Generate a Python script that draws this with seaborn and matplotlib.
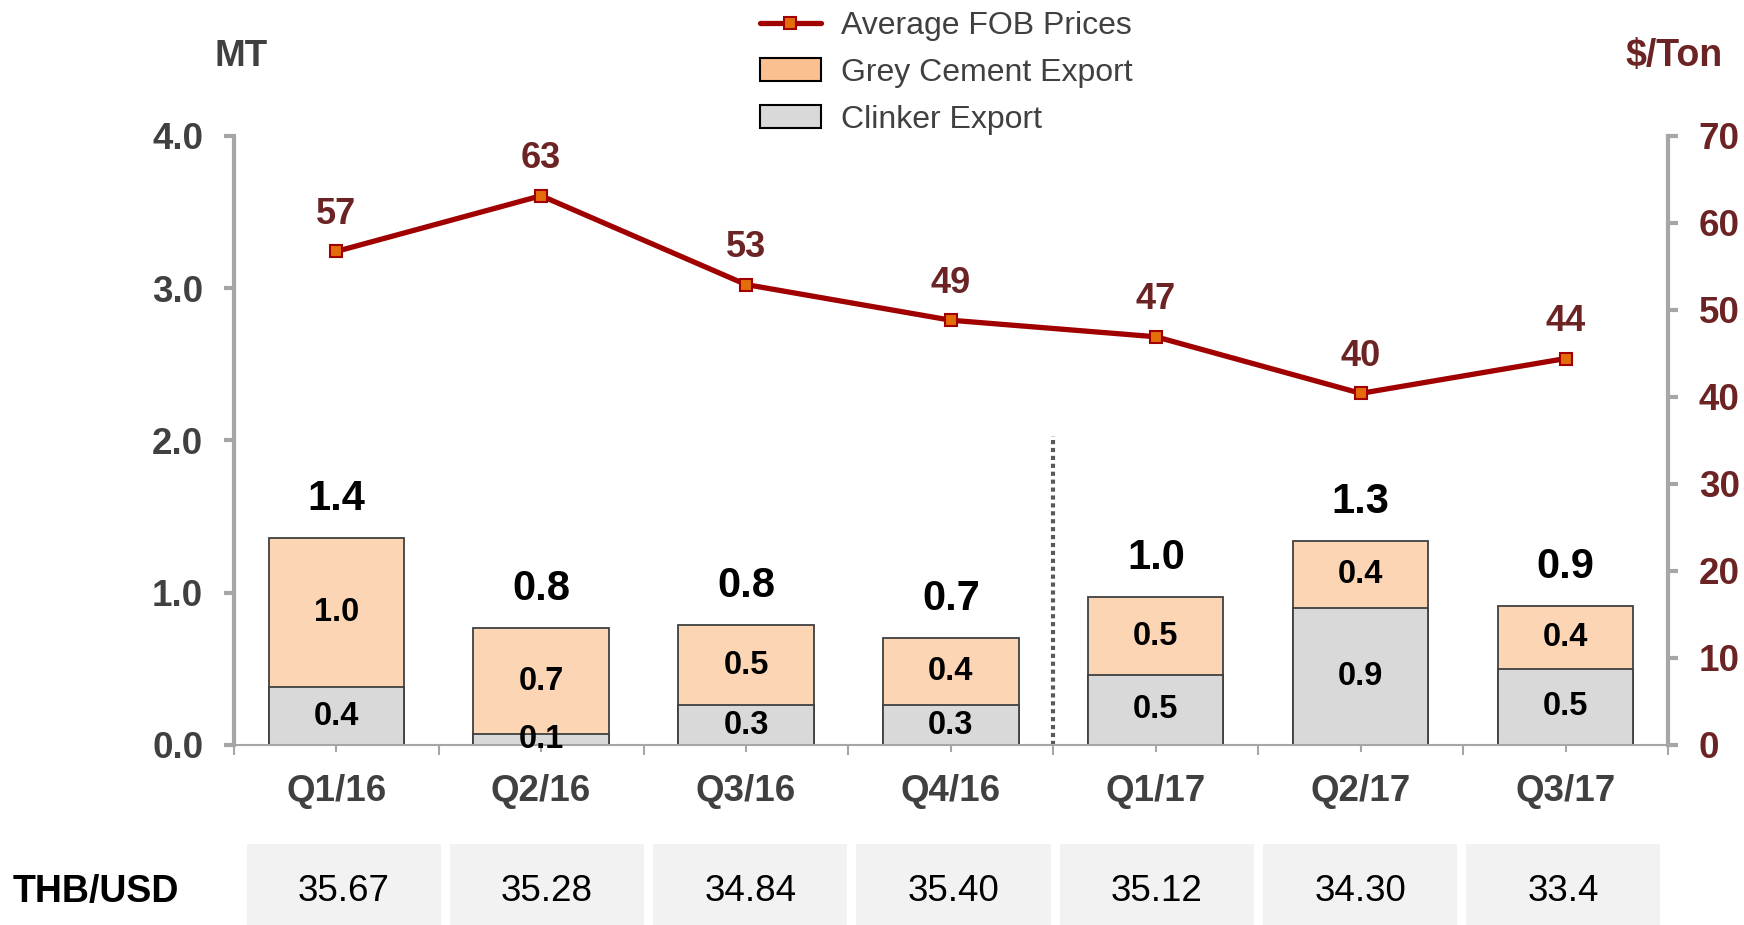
import numpy as np
import matplotlib
matplotlib.use("Agg")
import matplotlib.pyplot as plt
from matplotlib.lines import Line2D
from matplotlib.patches import Patch
import seaborn as sns

# ---- data ----
quarters = ["Q1/16", "Q2/16", "Q3/16", "Q4/16", "Q1/17", "Q2/17", "Q3/17"]
clinker = [0.38, 0.07, 0.26, 0.26, 0.46, 0.90, 0.50]
grey_cement = [0.98, 0.70, 0.53, 0.44, 0.51, 0.44, 0.41]
clinker_labels = ["0.4", "0.1", "0.3", "0.3", "0.5", "0.9", "0.5"]
grey_labels = ["1.0", "0.7", "0.5", "0.4", "0.5", "0.4", "0.4"]
total_labels = ["1.4", "0.8", "0.8", "0.7", "1.0", "1.3", "0.9"]
fob_price = [56.7, 63.1, 52.9, 48.8, 46.9, 40.4, 44.4]
fob_labels = ["57", "63", "53", "49", "47", "40", "44"]
thb_usd = ["35.67", "35.28", "34.84", "35.40", "35.12", "34.30", "33.4"]

# ---- colours ----
PEACH = "#FCD5B5"
PEACH_LEG = "#FAC090"
GREY_BAR = "#D9D9D9"
EDGE = "#404040"
LINE_RED = "#A00000"
MARKER_OR = "#E46C0A"
MAROON = "#6B2323"
AXIS_GREY = "#A6A6A6"
TEXT_DARK = "#404040"

sns.set_style("white")
plt.rcParams["font.family"] = ["Liberation Sans", "DejaVu Sans"]

fig = plt.figure(figsize=(17.44, 9.25), dpi=100)
ax = fig.add_axes([0.134, 0.1946, 0.8225, 0.6587])

total = [c + g for c, g in zip(clinker, grey_cement)]

# stacked bars: full height in peach, clinker drawn over it
sns.barplot(x=quarters, y=total, color=PEACH, saturation=1, width=0.66,
            edgecolor=EDGE, linewidth=1.3, ax=ax)
sns.barplot(x=quarters, y=clinker, color=GREY_BAR, saturation=1, width=0.66,
            edgecolor=EDGE, linewidth=1.3, ax=ax)

ax.set_xlim(-0.5, len(quarters) - 0.5)
ax.set_ylim(0, 4.0)
ax.set_yticks(np.arange(0, 4.01, 1.0))
ax.set_yticklabels([f"{v:.1f}" for v in np.arange(0, 4.01, 1.0)])
ax.set_xlabel("")
ax.set_ylabel("")
ax.set_xticks(np.arange(-0.5, len(quarters), 1.0), minor=True)

for i in range(len(quarters)):
    ax.text(i, clinker[i] / 2, clinker_labels[i], ha="center", va="center",
            fontsize=23.5, fontweight="bold", color="black")
    ax.text(i, clinker[i] + grey_cement[i] / 2, grey_labels[i], ha="center",
            va="center", fontsize=23.5, fontweight="bold", color="black")
    ax.annotate(total_labels[i], (i, total[i]), xytext=(0, 28),
                textcoords="offset points", ha="center", va="center",
                fontsize=30, fontweight="bold", color="black")

# dotted divider between 2016 and 2017
ax.plot([3.5, 3.5], [0, 2.03], color="#595959", lw=3.0,
        linestyle=(0, (1, 0.9)), zorder=1)

for s in ["top", "right"]:
    ax.spines[s].set_visible(False)
ax.spines["left"].set_color(AXIS_GREY)
ax.spines["left"].set_linewidth(3)
ax.spines["bottom"].set_color(AXIS_GREY)
ax.spines["bottom"].set_linewidth(1.5)
ax.tick_params(axis="y", direction="out", length=7, width=3, color=AXIS_GREY,
               pad=15, labelsize=26.5, labelcolor=TEXT_DARK, left=True)
ax.tick_params(axis="x", which="major", direction="out", length=5, width=1.5,
               color=AXIS_GREY, pad=16, labelsize=26.5, labelcolor=TEXT_DARK,
               bottom=True)
ax.tick_params(axis="x", which="minor", direction="out", length=7, width=1.5,
               color=AXIS_GREY, bottom=True)
plt.setp(ax.get_yticklabels(), fontweight="bold")
plt.setp(ax.get_xticklabels(), fontweight="bold")

# price line on the right axis
ax2 = ax.twinx()
sns.lineplot(x=np.arange(len(quarters)), y=fob_price, sort=False, ax=ax2,
             color=LINE_RED, lw=3.8, marker="s", markersize=8.5,
             markerfacecolor=MARKER_OR, markeredgecolor=LINE_RED,
             markeredgewidth=1.5)
ax2.set_ylim(0, 70)
ax2.set_yticks(np.arange(0, 71, 10))
for i, (v, lbl) in enumerate(zip(fob_price, fob_labels)):
    ax2.annotate(lbl, (i, v), xytext=(0, 26.5), textcoords="offset points",
                 ha="center", va="center", fontsize=26, fontweight="bold",
                 color=MAROON)
for s in ["top", "left", "bottom"]:
    ax2.spines[s].set_visible(False)
ax2.spines["right"].set_color(AXIS_GREY)
ax2.spines["right"].set_linewidth(3)
ax2.tick_params(axis="y", direction="out", length=7, width=3, color=AXIS_GREY,
                pad=15, labelsize=26.5, labelcolor=MAROON, right=True)
plt.setp(ax2.get_yticklabels(), fontweight="bold")
ax2.set_xlim(-0.5, len(quarters) - 0.5)

fig.text(241 / 1744, 1 - 56 / 925, "MT", ha="center", va="center",
         fontsize=26.5, fontweight="bold", color=TEXT_DARK)
fig.text(1674 / 1744, 1 - 56 / 925, "$/Ton", ha="center", va="center",
         fontsize=27, fontweight="bold", color=MAROON)

# exchange-rate row under the chart
tab = fig.add_axes([242 / 1744, 0.0, (1665 - 242) / 1744, 81 / 925])
sns.barplot(x=quarters, y=[1] * len(quarters), color="#F2F2F2", saturation=1,
            width=0.955, linewidth=0, ax=tab)
tab.set_xlim(-0.5, len(quarters) - 0.5)
tab.set_ylim(0, 1)
for i, v in enumerate(thb_usd):
    tab.text(i, 0.41, v, ha="center", va="center", fontsize=26.5,
             color="black")
tab.axis("off")
fig.text(96 / 1744, 33 / 925, "THB/USD", ha="center", va="center",
         fontsize=27, fontweight="bold", color="black")

handles = [
    Line2D([0], [0], color=LINE_RED, lw=3.8, marker="s", markersize=8.5,
           markerfacecolor=MARKER_OR, markeredgecolor=LINE_RED,
           markeredgewidth=1.5),
    Patch(facecolor=PEACH_LEG, edgecolor="black", lw=1.5),
    Patch(facecolor=GREY_BAR, edgecolor="black", lw=1.5),
]
labels = ["Average FOB Prices", "Grey Cement Export", "Clinker Export"]
fig.legend(handles, labels, loc="upper left", bbox_to_anchor=(0.4358, 0.988),
           frameon=False, fontsize=23, handlelength=1.9, handleheight=0.72,
           handletextpad=0.62, labelspacing=0.53, borderpad=0,
           borderaxespad=0, labelcolor=TEXT_DARK)

fig.savefig("out.png", dpi=100)
